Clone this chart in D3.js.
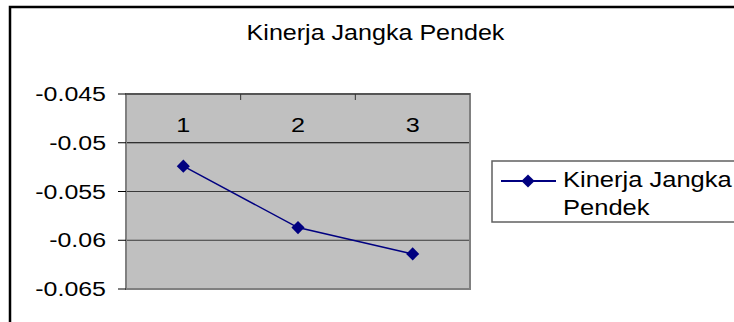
<!DOCTYPE html>
<html>
<head>
<meta charset="utf-8">
<script src="https://cdn.jsdelivr.net/npm/d3@7"></script>
<style>
  body { margin: 0; background: #fff; }
  svg text { font-family: "Liberation Sans", Arial, sans-serif; fill: #000; }
</style>
</head>
<body>
<svg id="chart" width="734" height="322"></svg>
<script>
// data
var categories = ["1", "2", "3"];
var values = [-0.0524, -0.0587, -0.0614];
var yTicks = [-0.045, -0.05, -0.055, -0.06, -0.065];
var seriesName = ["Kinerja Jangka", "Pendek"];
var title = "Kinerja Jangka Pendek";

var svg = d3.select("#chart");

// plot area
var plot = { left: 126, right: 470, top: 94, bottom: 289 };

var x = d3.scaleBand()
  .domain(categories)
  .range([plot.left, plot.right]);

var y = d3.scaleLinear()
  .domain([-0.065, -0.045])
  .range([plot.bottom, plot.top]);

// stretched text (the picture's lettering is wider than normal)
function wideText(g, tx, ty, str, size, sx, anchor) {
  var t = g.append("g")
    .attr("transform", "translate(" + tx + "," + ty + ") scale(" + sx + ",1)");
  t.append("text")
    .attr("font-size", size)
    .attr("text-anchor", anchor || "start")
    .text(str);
  return t;
}

// outer chart border (runs off the right and bottom)
svg.append("rect")
  .attr("x", 10).attr("y", 7)
  .attr("width", 760).attr("height", 340)
  .attr("fill", "none")
  .attr("stroke", "#000")
  .attr("stroke-width", 2.5);

// title
wideText(svg, 375.5, 40, title, 22, 1.14, "middle");

// plot background
svg.append("rect")
  .attr("x", plot.left).attr("y", plot.top)
  .attr("width", plot.right - plot.left)
  .attr("height", plot.bottom - plot.top)
  .attr("fill", "#c0c0c0");

// gridlines
svg.append("g")
  .selectAll("line")
  .data(yTicks.filter(function (d) { return d != -0.045 && d != -0.065; }))
  .enter().append("line")
  .attr("x1", plot.left).attr("x2", plot.right)
  .attr("y1", function (d) { return y(d); })
  .attr("y2", function (d) { return y(d); })
  .attr("stroke", function (d, i) { return i == 0 ? "#000" : "#3a3a3a"; })
  .attr("stroke-width", 1);

// plot border
svg.append("rect")
  .attr("x", plot.left).attr("y", plot.top)
  .attr("width", plot.right - plot.left)
  .attr("height", plot.bottom - plot.top)
  .attr("fill", "none")
  .attr("stroke", "#808080")
  .attr("stroke-width", 2);

// top category axis line
svg.append("line")
  .attr("x1", plot.left).attr("x2", plot.right)
  .attr("y1", plot.top).attr("y2", plot.top)
  .attr("stroke", "#555")
  .attr("stroke-width", 2);

// category tick marks (between categories)
svg.append("g")
  .selectAll("line")
  .data(categories.slice(1))
  .enter().append("line")
  .attr("x1", function (d) { return x(d); })
  .attr("x2", function (d) { return x(d); })
  .attr("y1", plot.top).attr("y2", plot.top + 6)
  .attr("stroke", "#333")
  .attr("stroke-width", 1);

// category labels
categories.forEach(function (c) {
  wideText(svg, x(c) + x.bandwidth() / 2, 132, c, 21, 1.2, "middle");
});

// y axis ticks and labels (plain hyphen as in the original)
var yAxis = svg.append("g");
yTicks.forEach(function (v) {
  yAxis.append("line")
    .attr("x1", plot.left - 8).attr("x2", plot.left)
    .attr("y1", y(v)).attr("y2", y(v))
    .attr("stroke", "#000")
    .attr("stroke-width", 1);
  wideText(yAxis, 106, y(v) + 7, String(v), 19.5, 1.28, "end");
});

// series line
var line = d3.line()
  .x(function (d, i) { return x(categories[i]) + x.bandwidth() / 2; })
  .y(function (d) { return y(d); });

svg.append("path")
  .datum(values)
  .attr("d", line)
  .attr("fill", "none")
  .attr("stroke", "#000080")
  .attr("stroke-width", 1.5);

var diamond = d3.symbol().type(d3.symbolDiamond2).size(110);

svg.append("g")
  .selectAll("path")
  .data(values)
  .enter().append("path")
  .attr("d", diamond)
  .attr("transform", function (d, i) {
    return "translate(" + (x(categories[i]) + x.bandwidth() / 2) + "," + y(d) + ")";
  })
  .attr("fill", "#000080");

// legend
var legend = svg.append("g");
legend.append("rect")
  .attr("x", 492).attr("y", 161)
  .attr("width", 300).attr("height", 61)
  .attr("fill", "#fff")
  .attr("stroke", "#606060")
  .attr("stroke-width", 1.5);
legend.append("line")
  .attr("x1", 501).attr("x2", 556)
  .attr("y1", 181).attr("y2", 181)
  .attr("stroke", "#000080")
  .attr("stroke-width", 2);
legend.append("path")
  .attr("d", diamond)
  .attr("transform", "translate(528,181)")
  .attr("fill", "#000080");
wideText(legend, 563, 186.5, seriesName[0], 22, 1.16, "start");
wideText(legend, 563, 215, seriesName[1], 22, 1.16, "start");
</script>
</body>
</html>
